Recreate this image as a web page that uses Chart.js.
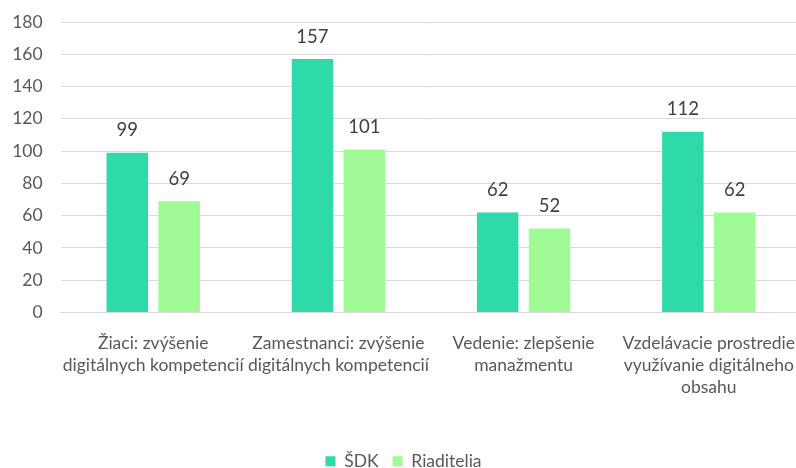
<!DOCTYPE html>
<html>
<head>
<meta charset="utf-8">
<script src="https://cdn.jsdelivr.net/npm/chart.js@4/dist/chart.umd.min.js"></script>
<style>
  html, body { margin: 0; padding: 0; background: #fff; overflow: hidden; }
  #wrap { width: 807px; height: 480px; }
</style>
</head>
<body>
<div id="wrap"><canvas id="chart"></canvas></div>
<script>
const categories = [
    ['Žiaci: zvýšenie', 'digitálnych kompetencií'],
    ['Zamestnanci: zvýšenie', 'digitálnych kompetencií'],
    ['Vedenie: zlepšenie', 'manažmentu'],
    ['Vzdelávacie prostredie', 'využívanie digitálneho', 'obsahu']
];
const sdk = [99, 157, 62, 112];
const riaditelia = [69, 101, 52, 62];
const yTicks = {min: 0, max: 180, step: 20};

const FONT = 'Lato, "Open Sans", sans-serif';

// hodnoty nad stĺpcami
const valueLabels = {
    id: 'valueLabels',
    afterDatasetsDraw(chart) {
        const ctx = chart.ctx;
        ctx.save();
        ctx.font = '18.5px ' + FONT;
        ctx.fillStyle = '#404040';
        ctx.textAlign = 'center';
        ctx.textBaseline = 'bottom';
        chart.data.datasets.forEach((ds, i) => {
            chart.getDatasetMeta(i).data.forEach((bar, j) => {
                ctx.fillText(ds.data[j], bar.x, bar.y - 13);
            });
        });
        ctx.restore();
    }
};

new Chart('chart', {
    type: 'bar',
    data: {
        labels: categories,
        datasets: [
            {label: 'ŠDK', data: sdk, backgroundColor: '#2edba8'},
            {label: 'Riaditelia', data: riaditelia, backgroundColor: '#a0fb97'}
        ]
    },
    options: {
        responsive: true,
        maintainAspectRatio: false,
        animation: false,
        datasets: {bar: {categoryPercentage: 0.56, barPercentage: 0.8}},
        layout: {padding: {top: 22, left: 0, right: 0, bottom: 0}},
        plugins: {
            tooltip: {enabled: false},
            legend: {
                position: 'bottom',
                labels: {
                    font: {family: FONT, size: 17.5},
                    color: '#595959',
                    boxWidth: 10,
                    boxHeight: 10,
                    padding: 14
                }
            }
        },
        scales: {
            x: {
                grid: {display: false},
                border: {color: '#d9d9d9'},
                ticks: {
                    font: {family: FONT, size: 17.5, lineHeight: 1.25},
                    color: '#595959',
                    maxRotation: 0,
                    autoSkip: false,
                    padding: 12
                },
                afterFit: s => { s.height = 126; }
            },
            y: {
                min: yTicks.min,
                max: yTicks.max,
                grid: {color: '#d9d9d9', drawTicks: false},
                border: {display: false},
                ticks: {
                    stepSize: yTicks.step,
                    font: {family: FONT, size: 17.5, lineHeight: 0.4},
                    color: '#595959',
                    padding: 18
                },
                afterFit: s => { s.width = 60.6; }
            }
        }
    },
    plugins: [valueLabels]
});
</script>
</body>
</html>
